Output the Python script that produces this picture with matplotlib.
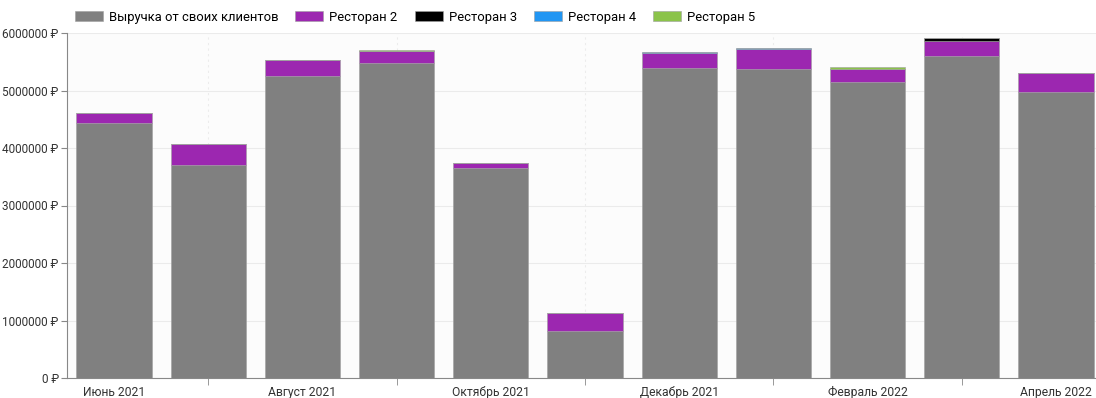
import matplotlib.pyplot as plt
import numpy as np

plt.rcParams['font.family'] = ['Roboto', 'DejaVu Sans']

months = ['Июнь 2021', 'Июль 2021', 'Август 2021', 'Сентябрь 2021', 'Октябрь 2021',
          'Ноябрь 2021', 'Декабрь 2021', 'Январь 2022', 'Февраль 2022', 'Март 2022',
          'Апрель 2022']

# values in rubles
own_clients = [4430000, 3705000, 5250000, 5485000, 3647000, 820000, 5397000, 5368000, 5148000, 5600000, 4980000]
rest2 = [180000, 360000, 280000, 210000, 100000, 310000, 260000, 350000, 230000, 265000, 320000]
rest3 = [0, 0, 0, 0, 0, 0, 0, 0, 0, 40000, 0]
rest4 = [0, 0, 0, 0, 0, 0, 10000, 20000, 0, 0, 0]
rest5 = [5000, 0, 5000, 15000, 0, 0, 0, 0, 25000, 15000, 0]

series = [
    ('Выручка от своих клиентов', own_clients, '#808080'),
    ('Ресторан 2', rest2, '#9c27b0'),
    ('Ресторан 3', rest3, '#000000'),
    ('Ресторан 4', rest4, '#2196f3'),
    ('Ресторан 5', rest5, '#8bc34a'),
]

fig = plt.figure(figsize=(10.96, 3.98), dpi=100)
ax = fig.add_axes([67 / 1096, 20 / 398, 1029 / 1096, 345 / 398])
ax.set_facecolor('#fcfcfc')

x = np.arange(len(months))
bottom = np.zeros(len(months))
for name, vals, color in series:
    vals = np.array(vals, dtype=float)
    ax.bar(x, vals, 0.8, bottom=bottom, color=color, label=name,
           edgecolor='#a0a0a0', linewidth=0.4, zorder=3)
    bottom += vals

ax.set_xlim(-0.5, 10.5 - 7 / 94)
ax.set_ylim(0, 6000000)

yt = np.arange(0, 6000001, 1000000)
ax.set_yticks(yt)
ax.set_yticklabels([f'{int(v)} ₽' for v in yt])
ax.yaxis.grid(True, color='#ebebeb', linewidth=0.8, zorder=0)

ax.set_xticks(x[::2])
ax.set_xticklabels(months[::2])
ax.set_xticks(x[1::2], minor=True)
ax.xaxis.grid(True, which='minor', color='#ececec', linewidth=0.8, linestyle=(0, (2, 3)), zorder=0)
ax.tick_params(axis='x', which='major', length=0, pad=6, labelsize=8.7, colors='#333333')
ax.tick_params(axis='x', which='minor', length=5, color='#888888', direction='out')
ax.tick_params(axis='y', length=4, color='#888888', labelsize=8.5, colors='#333333', pad=2)

for s in ['top', 'right']:
    ax.spines[s].set_visible(False)
for s in ['left', 'bottom']:
    ax.spines[s].set_color('#888888')
    ax.spines[s].set_linewidth(0.8)

handles, labels = ax.get_legend_handles_labels()
fig.legend(handles, labels, loc='center left', bbox_to_anchor=(75 / 1096, 1 - 17 / 398),
           ncol=5, frameon=False, fontsize=9.4, handlelength=2.15, handleheight=0.85,
           columnspacing=1.3, handletextpad=0.45, borderaxespad=0, borderpad=0)

fig.savefig('out.png', dpi=100)
